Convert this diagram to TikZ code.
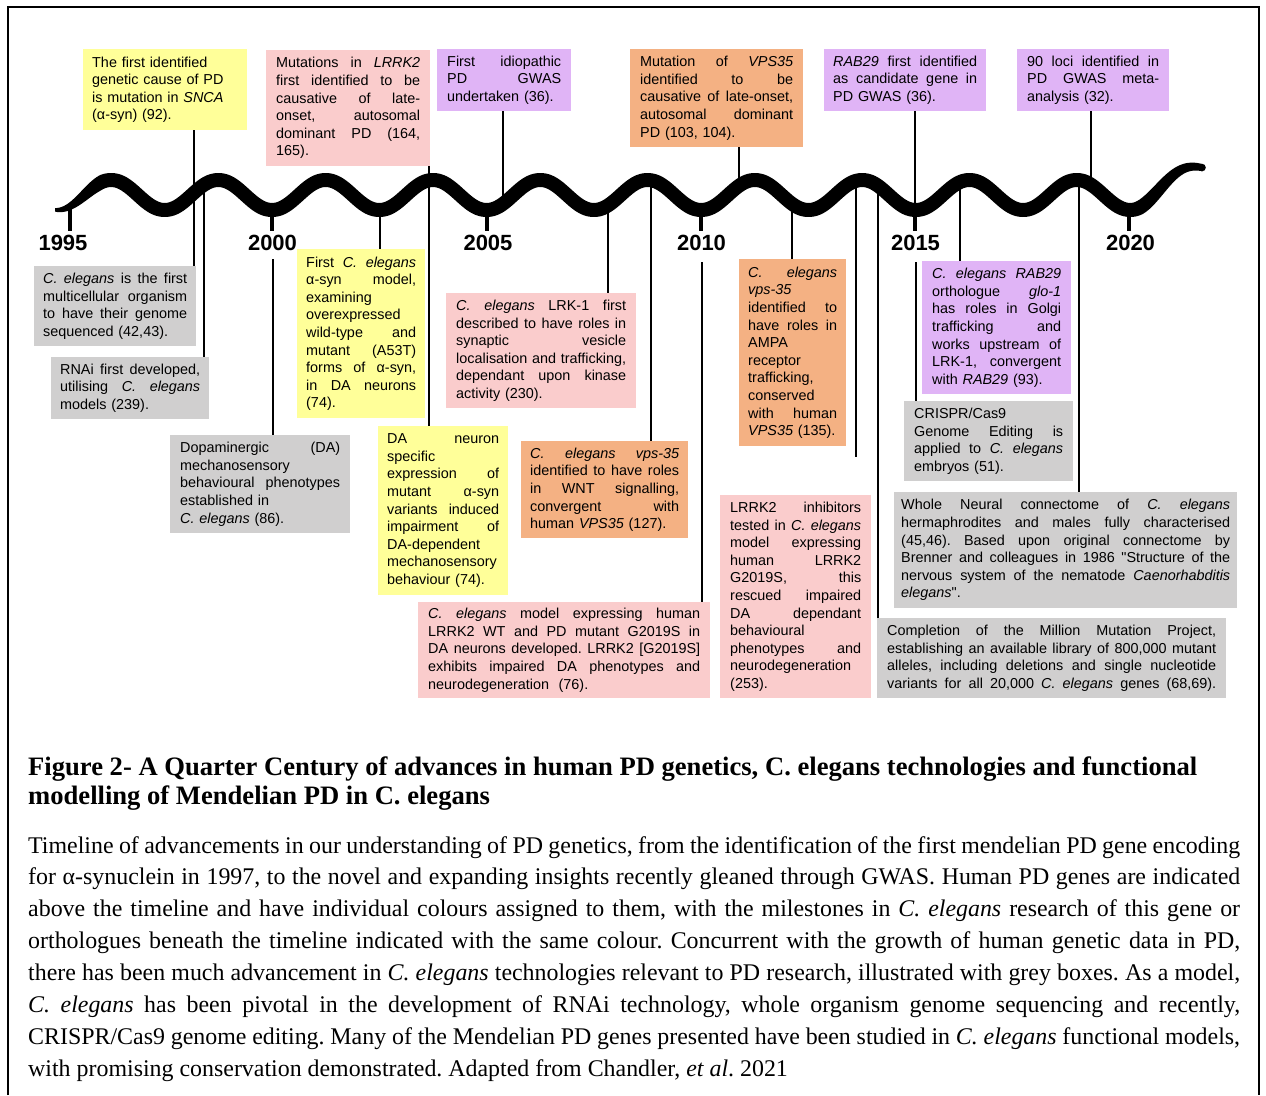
\documentclass[tikz,border=0pt]{standalone}
\usepackage{fontspec}
\setmainfont{Liberation Serif}
\newfontfamily\arialf{Liberation Sans}
\usetikzlibrary{calc}
\definecolor{yelbox}{RGB}{255,255,153}
\definecolor{pinkbox}{RGB}{250,204,204}
\definecolor{orgbox}{RGB}{244,177,131}
\definecolor{purbox}{RGB}{224,180,246}
\definecolor{greybox}{RGB}{208,207,207}
\newcommand\bxfont{\arialf\fontsize{14.4}{17.6}\selectfont\frenchspacing}
\newcommand\jl[1]{\makebox[\hsize][s]{\spaceskip=0pt\xspaceskip=0pt #1}}
\begin{document}
\begin{tikzpicture}[x=1pt,y=-1pt,
  declare function={
    wv(\x)=195+15*cos(360*((\x-272)/107.3))-20*pow(max(0,(\x-1129)/73),2);
    wd(\x)=-15*(2*pi/107.3)*sin(360*((\x-272)/107.3))-40*max(0,(\x-1129)/73)/73;
    tp(\x)=min(1,0.25+(\x-55)/60,0.5+(1202-\x)/120);
    hw(\x)=7*tp(\x)*sqrt(1+pow(wd(\x),2));
  },
  bx/.style={anchor=north west, align=left, font=\bxfont, inner ysep=2pt},
  conn/.style={line width=1.6pt},
  yeartick/.style={line width=3.3pt},
  yr/.style={anchor=base, inner sep=0pt, font=\arialf\bfseries\fontsize{22}{24}\selectfont},
  captxt/.style={anchor=base west, inner sep=0pt, font=\fontsize{23.9}{28}\selectfont\frenchspacing},
  ttl/.style={anchor=base west, inner sep=0pt, font=\bfseries\fontsize{26.6}{30}\selectfont\frenchspacing},
  outerframe/.style={line width=1.3pt}
]
\useasboundingbox (0,0) rectangle (1266,1095);
\fill[white] (0,0) rectangle (1266,1095);
\draw[outerframe] (8,1095) -- (8,7) -- (1259,7) -- (1259,1095);

% ---------- top boxes ----------
\node[bx, fill=yelbox, inner xsep=9pt, text width=146pt, minimum height=81pt] (snca) at (83,49)
 {The first identified\\ genetic cause of PD\\ is mutation in \textit{SNCA}\\ (α-syn) (92).};
\node[bx, fill=pinkbox, inner xsep=10pt, text width=144pt, minimum height=116pt] (lrrk) at (266,50)
 {\jl{Mutations in \textit{LRRK2}}\\ \jl{first identified to be}\\ \jl{causative of late-}\\ \jl{onset, autosomal}\\ \jl{dominant PD (164,}\\ 165).};
\node[bx, fill=purbox, inner xsep=10pt, text width=114pt, minimum height=62pt] (gwas) at (437,49)
 {\jl{First idiopathic}\\ \jl{PD GWAS}\\ undertaken (36).};
\node[bx, fill=orgbox, inner xsep=10pt, text width=153pt, minimum height=98pt] (vps) at (630,49)
 {\jl{Mutation of \textit{VPS35}}\\ \jl{identified to be}\\ \jl{causative of late-onset,}\\ \jl{autosomal dominant}\\ PD (103, 104).};
\node[bx, fill=purbox, inner xsep=9pt, text width=144pt, minimum height=62pt] (rab) at (824,49)
 {\jl{\textit{RAB29} first identified}\\ \jl{as candidate gene in}\\ PD GWAS (36).};
\node[bx, fill=purbox, inner xsep=10pt, text width=132pt, minimum height=62pt] (loci) at (1017,49)
 {\jl{90 loci identified in}\\ \jl{PD GWAS meta-}\\ analysis (32).};

% ---------- bottom boxes ----------
\node[bx, fill=greybox, inner xsep=9pt, text width=144pt, minimum height=80pt] (celg) at (34,266)
 {\jl{\textit{C. elegans} is the first}\\ \jl{multicellular organism}\\ \jl{to have their genome}\\ sequenced (42,43).};
\node[bx, fill=greybox, inner xsep=9pt, text width=140pt, minimum height=62pt] (rnai) at (51,357)
 {\jl{RNAi first developed,}\\ \jl{utilising \textit{C. elegans}}\\ models (239).};
\node[bx, fill=yelbox, inner xsep=9pt, text width=110pt, minimum height=169pt] (firstc) at (297,249)
 {\jl{First \textit{C. elegans}}\\ \jl{α-syn model,}\\ examining\\ overexpressed\\ \jl{wild-type and}\\ \jl{mutant (A53T)}\\ \jl{forms of α-syn,}\\ \jl{in DA neurons}\\ (74).};
\node[bx, fill=greybox, inner xsep=10pt, text width=160pt, minimum height=98pt] (dop) at (170,435)
 {\jl{Dopaminergic (DA)}\\ mechanosensory\\ \jl{behavioural phenotypes}\\ established in\\ \textit{C. elegans} (86).};
\node[bx, fill=pinkbox, inner xsep=10pt, text width=170pt, minimum height=115pt] (lrk1) at (446,293)
 {\jl{\textit{C. elegans} LRK-1 first}\\ \jl{described to have roles in}\\ \jl{synaptic vesicle}\\ \jl{localisation and trafficking,}\\ \jl{dependant upon kinase}\\ activity (230).};
\node[bx, fill=yelbox, inner xsep=9pt, text width=112pt, minimum height=169pt] (daneu) at (378,426)
 {\jl{DA neuron}\\ specific\\ \jl{expression of}\\ \jl{mutant α-syn}\\ \jl{variants induced}\\ \jl{impairment of}\\ DA-dependent\\ mechanosensory\\ behaviour (74).};
\node[bx, fill=orgbox, inner xsep=9pt, text width=149pt, minimum height=97pt] (wnt) at (521,441)
 {\jl{\textit{C. elegans vps-35}}\\ \jl{identified to have roles}\\ \jl{in WNT signalling,}\\ \jl{convergent with}\\ human \textit{VPS35} (127).};
\node[bx, fill=pinkbox, inner xsep=10pt, text width=272pt, minimum height=96pt] (model) at (418,602)
 {\jl{\textit{C. elegans} model expressing human}\\ \jl{LRRK2 WT and PD mutant G2019S in}\\ \jl{DA neurons developed. LRRK2 [G2019S]}\\ \jl{exhibits impaired DA phenotypes and}\\ neurodegeneration\ \ (76).};
\node[bx, fill=orgbox, inner xsep=9pt, text width=89pt, minimum height=187pt] (ampa) at (739,259)
 {\jl{\textit{C. elegans}}\\ \textit{vps-35}\\ \jl{identified to}\\ \jl{have roles in}\\ AMPA\\ receptor\\ trafficking,\\ conserved\\ \jl{with human}\\ \textit{VPS35} (135).};
\node[bx, fill=purbox, inner xsep=10pt, text width=129pt, minimum height=133pt] (glo) at (922,261)
 {\jl{\textit{C. elegans RAB29}}\\ \jl{orthologue \textit{glo-1}}\\ \jl{has roles in Golgi}\\ \jl{trafficking and}\\ \jl{works upstream of}\\ \jl{LRK-1, convergent}\\ with \textit{RAB29} (93).};
\node[bx, fill=greybox, inner xsep=10pt, text width=149pt, minimum height=80pt] (crispr) at (904,401)
 {CRISPR/Cas9\\ \jl{Genome Editing is}\\ \jl{applied to \textit{C. elegans}}\\ embryos (51).};
\node[bx, fill=pinkbox, inner xsep=10pt, text width=131pt, minimum height=203pt] (inhib) at (720,495)
 {\jl{LRRK2 inhibitors}\\ \jl{tested in \textit{C. elegans}}\\ \jl{model expressing}\\ \jl{human LRRK2}\\ \jl{G2019S, this}\\ \jl{rescued impaired}\\ \jl{DA dependant}\\ behavioural\\ \jl{phenotypes and}\\ neurodegeneration\\ (253).};
\node[bx, fill=greybox, inner xsep=7pt, text width=329pt, minimum height=116pt] (whole) at (894,492)
 {\jl{Whole Neural connectome of \textit{C. elegans}}\\ \jl{hermaphrodites and males fully characterised}\\ \jl{(45,46). Based upon original connectome by}\\ \jl{Brenner and colleagues in 1986 "Structure of the}\\ \jl{nervous system of the nematode \textit{Caenorhabditis}}\\ \textit{elegans}".};
\node[bx, fill=greybox, inner xsep=10pt, text width=329pt, minimum height=80pt] (compl) at (877,618)
 {\jl{Completion of the Million Mutation Project,}\\ \jl{establishing an available library of 800,000 mutant}\\ \jl{alleles, including deletions and single nucleotide}\\ \jl{variants for all 20,000 \textit{C. elegans} genes (68,69).}};

% ---------- year labels ----------
\node[yr] (y95) at (63,250) {1995};
\node[yr] (y00) at (272.5,250) {2000};
\node[yr] (y05) at (488,250) {2005};
\node[yr] (y10) at (701.5,250) {2010};
\node[yr] (y15) at (915.5,250) {2015};
\node[yr] (y20) at (1130.5,250) {2020};

% ---------- coordinates on the wave ----------
\coordinate (tb) at (0,231);
\coordinate (t95) at (70,{wv(70)});
\coordinate (t00) at (272,{wv(272)});
\coordinate (t05) at (487,{wv(487)});
\coordinate (t10) at (701,{wv(701)});
\coordinate (t15) at (915,{wv(915)});
\coordinate (t20) at (1129,{wv(1129)});
\coordinate (cA) at (194,{wv(194)});
\coordinate (cB) at (204,{wv(204)});
\coordinate (cC) at (380,{wv(380)});
\coordinate (cD) at (429,{wv(429)});
\coordinate (cE) at (503,{wv(503)});
\coordinate (cF) at (608,{wv(608)});
\coordinate (cG) at (651,{wv(651)});
\coordinate (cH) at (739,{wv(739)});
\coordinate (cI) at (792,{wv(792)});
\coordinate (cJ) at (856,{wv(856)});
\coordinate (cJend) at (856,457);
\coordinate (cK) at (878,{wv(878)});
\coordinate (cL) at (960,{wv(960)});
\coordinate (cM) at (1079,{wv(1079)});
\coordinate (cN) at (1091,{wv(1091)});
\coordinate (s00) at (273,259);
\coordinate (s10) at (702,262);
\coordinate (s15) at (916,262);

% ---------- connectors ----------
\draw[conn] (snca.south -| cA) -- (celg.north -| cA);
\draw[conn] (cB) -- (rnai.north -| cB);
\draw[conn] (cC) -- (firstc.north -| cC);
\draw[conn] (lrrk.south -| cD) -- (daneu.north -| cD);
\draw[conn] (gwas.south -| cE) -- (cE);
\draw[conn] (cF) -- (lrk1.north -| cF);
\draw[conn] (cG) -- (wnt.north -| cG);
\draw[conn] (vps.south -| cH) -- (cH);
\draw[conn] (cI) -- (ampa.north -| cI);
\draw[conn] (cJ) -- (cJend);
\draw[conn] (cK) -- (compl.north -| cK);
\draw[conn] (rab.south -| t15) -- (t15);
\draw[conn] (cL) -- (glo.north -| cL);
\draw[conn] (cM) -- (whole.north -| cM);
\draw[conn] (loci.south -| cN) -- (cN);
\draw[conn] (s00) -- (dop.north -| s00);
\draw[conn] (s10) -- (model.north -| s10);
\draw[conn] (s15) -- (crispr.north -| s15);
\foreach \t in {t95,t00,t05,t10,t15,t20} \draw[yeartick] (\t) -- (\t |- tb);

% ---------- the worm timeline ----------
\fill[black] plot[domain=55:1202,samples=500] (\x,{wv(\x)-hw(\x)})
  -- plot[domain=1202:55,samples=500] (\x,{wv(\x)+hw(\x)}) -- cycle;
\fill[black] (1202,{wv(1202)}) circle[radius=3.8];

% ---------- caption ----------
\node[ttl] (tl1) at (28,775) {Figure 2- A Quarter Century of advances in human PD genetics, C. elegans technologies and functional};
\node[ttl] (tl2) at (28,804) {modelling of Mendelian PD in C. elegans};
\node[captxt] (c1) at (28,853) {\makebox[1212pt][s]{Timeline of advancements in our understanding of PD genetics, from the identification of the first mendelian PD gene encoding}};
\node[captxt] (c2) at (28,884.9) {\makebox[1212pt][s]{for α-synuclein in 1997, to the novel and expanding insights recently gleaned through GWAS. Human PD genes are indicated}};
\node[captxt] (c3) at (28,916.8) {\makebox[1212pt][s]{above the timeline and have individual colours assigned to them, with the milestones in \textit{C. elegans} research of this gene or}};
\node[captxt] (c4) at (28,948.7) {\makebox[1212pt][s]{orthologues beneath the timeline indicated with the same colour. Concurrent with the growth of human genetic data in PD,}};
\node[captxt] (c5) at (28,980.6) {\makebox[1212pt][s]{there has been much advancement in \textit{C. elegans} technologies relevant to PD research, illustrated with grey boxes. As a model,}};
\node[captxt] (c6) at (28,1012.5) {\makebox[1212pt][s]{\textit{C. elegans} has been pivotal in the development of RNAi technology, whole organism genome sequencing and recently,}};
\node[captxt] (c7) at (28,1044.4) {\makebox[1212pt][s]{CRISPR/Cas9 genome editing. Many of the Mendelian PD genes presented have been studied in \textit{C. elegans} functional models,}};
\node[captxt] (c8) at (28,1076.3) {with promising conservation demonstrated. Adapted from Chandler, \textit{et al}. 2021};
\end{tikzpicture}
\end{document}
